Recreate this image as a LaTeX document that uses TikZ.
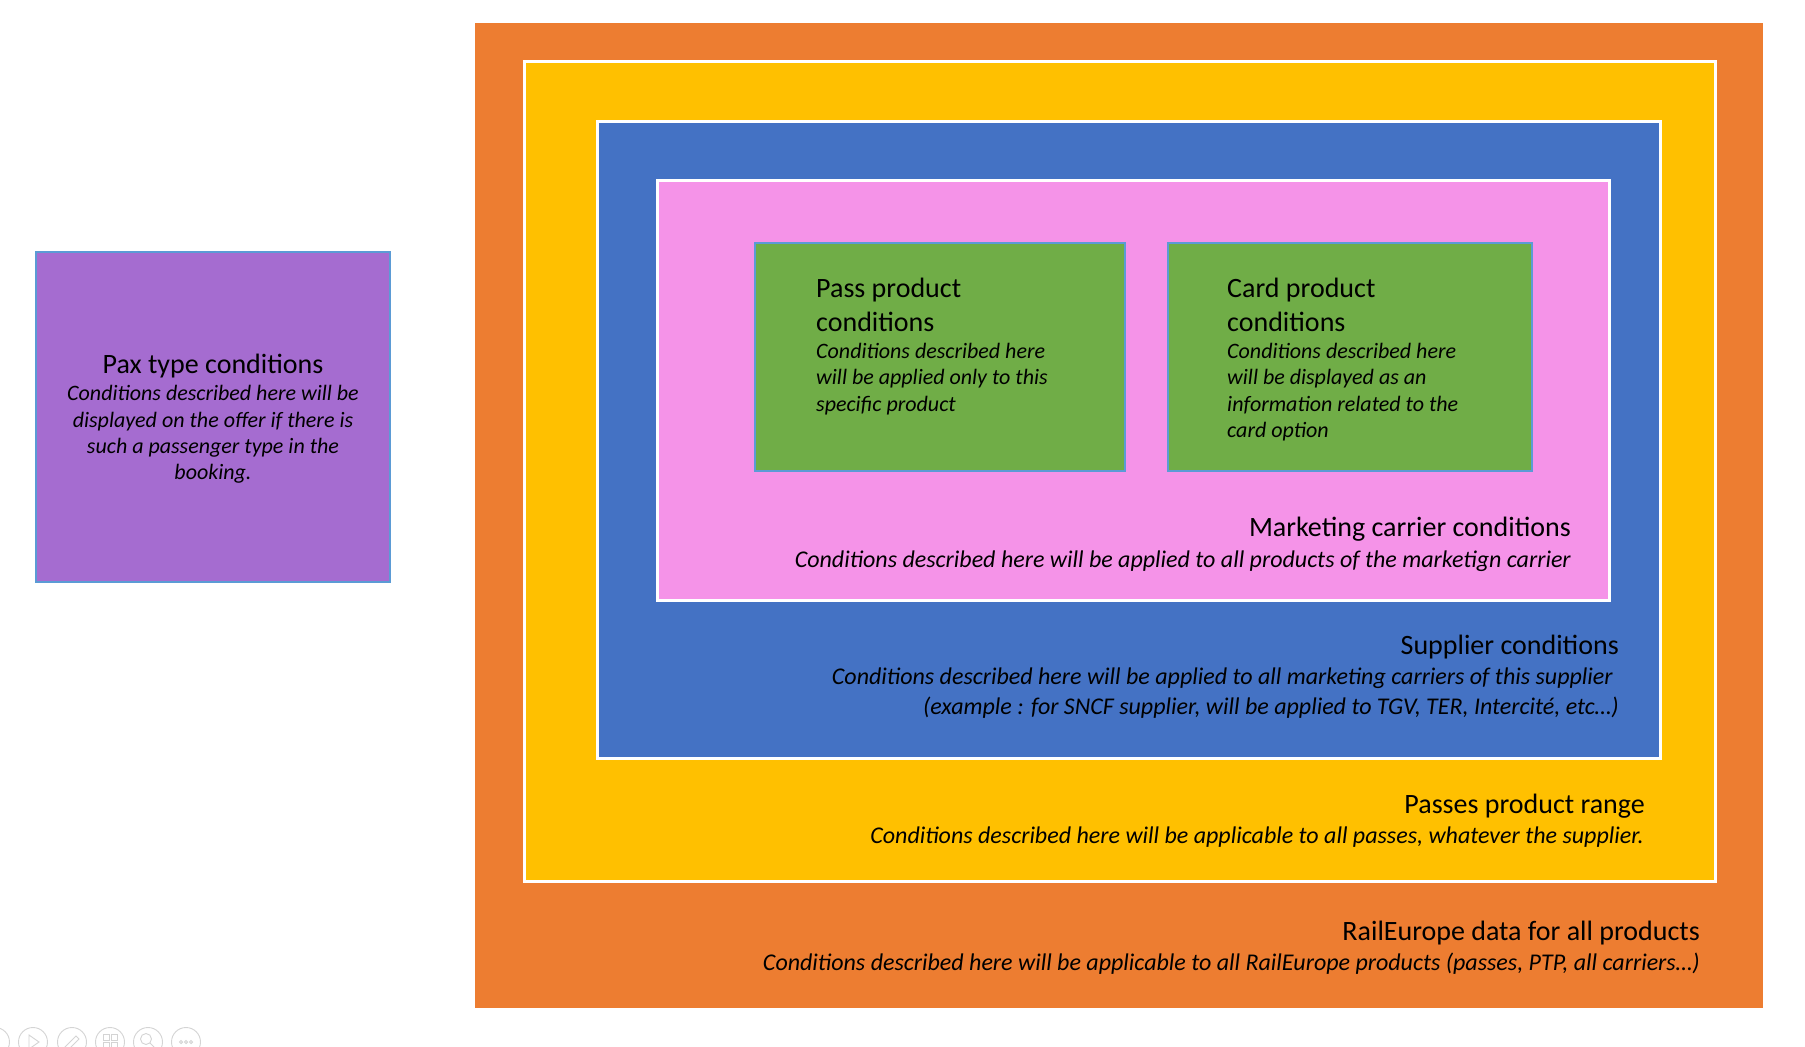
\documentclass[tikz,border=0pt]{standalone}
\usepackage{fontspec}
\setmainfont{Carlito}
\definecolor{orng}{HTML}{ED7D31}
\definecolor{yel}{HTML}{FFC000}
\definecolor{blu}{HTML}{4472C4}
\definecolor{pnk}{HTML}{F593E8}
\definecolor{grn}{HTML}{70AD47}
\definecolor{purp}{HTML}{A56CD0}
\definecolor{edge}{HTML}{5B9BD5}
\definecolor{icon}{HTML}{D4D4D4}
\tikzset{
  hd/.style={font=\fontsize{28}{34}\selectfont, inner sep=0pt, text=black},
  it/.style={font=\fontsize{22}{27}\selectfont\itshape, inner sep=0pt, text=black},
  itw/.style={font=\fontsize{24}{29}\selectfont\itshape, inner sep=0pt, text=black},
  wbox/.style={draw=white, line width=3pt},
  gbox/.style={fill=grn, draw=edge, line width=2pt},
  ic/.style={draw=icon, line width=0.9pt},
}
\begin{document}
\begin{tikzpicture}[x=1pt,y=-1pt]
\useasboundingbox (0,0) rectangle (1805,1047);
\fill[white] (0,0) rectangle (1805,1047);
% nested frames
\fill[orng] (475,23) rectangle (1763,1008);
\filldraw[fill=yel, wbox] (524.5,61.5) rectangle (1715.5,881);
\filldraw[fill=blu, wbox] (597.5,121.5) rectangle (1660.5,758);
\filldraw[fill=pnk, wbox] (657.5,180.5) rectangle (1609,600);
\filldraw[gbox] (755,243) rectangle (1125,471);
\filldraw[gbox] (1168,243) rectangle (1532,471);
\filldraw[fill=purp, draw=edge, line width=2pt] (36,252) rectangle (390,582);
% pax
\node[hd, anchor=base] (pax0) at (213,373) {Pax type conditions};
\node[it, anchor=base] (pax1) at (213,400) {Conditions described here will be};
\node[it, anchor=base] (pax2) at (213,427) {displayed on the offer if there is};
\node[it, anchor=base] (pax3) at (213,453) {such a passenger type in the};
\node[it, anchor=base] (pax4) at (213,479) {booking.};
% pass
\node[hd, anchor=base west] (pass0) at (816,297) {Pass product};
\node[hd, anchor=base west] (pass1) at (816,331) {conditions};
\node[it, anchor=base west] (pass2) at (816,358) {Conditions described here};
\node[it, anchor=base west] (pass3) at (816,384) {will be applied only to this};
\node[it, anchor=base west] (pass4) at (816,411) {specific product};
% card
\node[hd, anchor=base west] (card0) at (1227,297) {Card product};
\node[hd, anchor=base west] (card1) at (1227,331) {conditions};
\node[it, anchor=base west] (card2) at (1227,358) {Conditions described here};
\node[it, anchor=base west] (card3) at (1227,384) {will be displayed as an};
\node[it, anchor=base west] (card4) at (1227,411) {information related to the};
\node[it, anchor=base west] (card5) at (1227,437) {card option};
% marketing
\node[hd, anchor=base east] (mk0) at (1571,536) {Marketing carrier conditions};
\node[itw, anchor=base east] (mk1) at (1571,567) {Conditions described here will be applied to all products of the marketign carrier};
% supplier
\node[hd, anchor=base east] (sp0) at (1619,654) {Supplier conditions};
\node[itw, anchor=base east] (sp1) at (1613,684) {Conditions described here will be applied to all marketing carriers of this supplier};
\node[itw, anchor=base east] (sp2) at (1619,714) {(example : for SNCF supplier, will be applied to TGV, TER, Intercité, etc…)};
% passes
\node[hd, anchor=base east] (pr0) at (1645,813) {Passes product range};
\node[itw, anchor=base east] (pr1) at (1644,843) {Conditions described here will be applicable to all passes, whatever the supplier.};
% raileurope
\node[hd, anchor=base east] (re0) at (1700,940) {RailEurope data for all products};
\node[itw, anchor=base east] (re1) at (1700,970) {Conditions described here will be applicable to all RailEurope products (passes, PTP, all carriers…)};
% viewer toolbar icons
\foreach \cx in {-5,33,72,110,148,186} \draw[ic] (\cx,1042) circle (14.5);
\draw[ic] (29,1035) -- (29,1049) -- (39,1042) -- cycle;
\draw[ic] (65,1047) -- (76,1036) -- (79,1039) -- (68,1050) -- cycle;
\draw[ic] (103,1034) rectangle (109,1040) (111,1034) rectangle (117,1040) (103,1042) rectangle (109,1048) (111,1042) rectangle (117,1048);
\draw[ic] (146,1039) circle (5.5) (150,1043) -- (156,1049);
\foreach \dx in {-5,0,5} \draw[ic] (186+\dx,1042) circle (1.6);
\end{tikzpicture}
\end{document}
